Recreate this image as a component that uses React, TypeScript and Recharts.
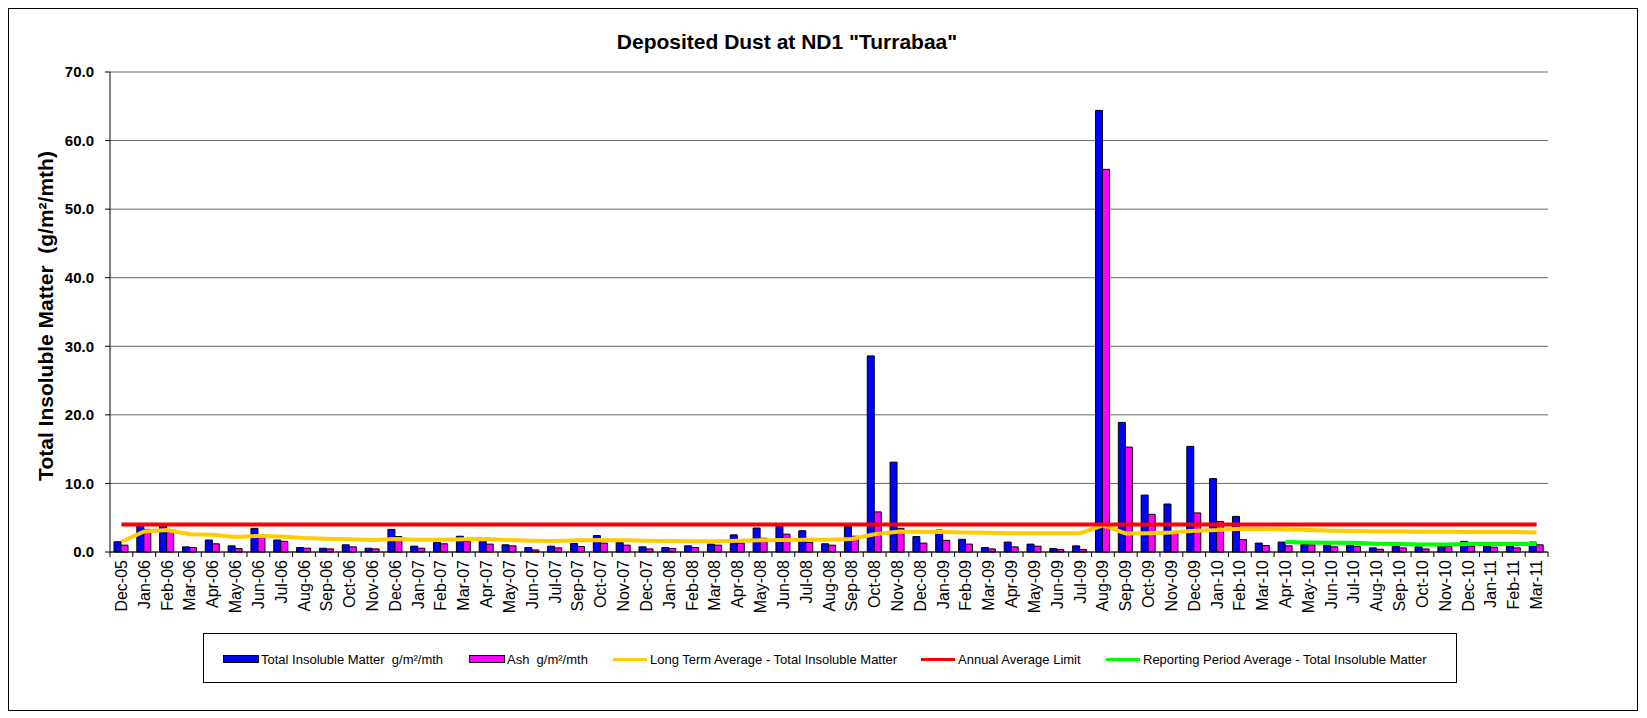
import { Bar, CartesianGrid, ComposedChart, Line, XAxis, YAxis } from "recharts";

const FONT = '"Liberation Sans", Arial, sans-serif';

// monthly sampling periods (no Aug-07 sample)
const months = [
  "Dec-05", "Jan-06", "Feb-06", "Mar-06", "Apr-06", "May-06", "Jun-06", "Jul-06", "Aug-06", "Sep-06",
  "Oct-06", "Nov-06", "Dec-06", "Jan-07", "Feb-07", "Mar-07", "Apr-07", "May-07", "Jun-07", "Jul-07",
  "Sep-07", "Oct-07", "Nov-07", "Dec-07", "Jan-08", "Feb-08", "Mar-08", "Apr-08", "May-08", "Jun-08",
  "Jul-08", "Aug-08", "Sep-08", "Oct-08", "Nov-08", "Dec-08", "Jan-09", "Feb-09", "Mar-09", "Apr-09",
  "May-09", "Jun-09", "Jul-09", "Aug-09", "Sep-09", "Oct-09", "Nov-09", "Dec-09", "Jan-10", "Feb-10",
  "Mar-10", "Apr-10", "May-10", "Jun-10", "Jul-10", "Aug-10", "Sep-10", "Oct-10", "Nov-10", "Dec-10",
  "Jan-11", "Feb-11", "Mar-11",
];

const totalInsoluble = [
  1.5, 3.9, 4.0, 0.75, 1.75, 0.9, 3.45, 1.75, 0.65, 0.55,
  1.05, 0.55, 3.3, 0.85, 1.4, 2.3, 2.0, 1.05, 0.65, 0.85,
  1.25, 2.4, 1.4, 0.75, 0.65, 0.9, 1.15, 2.5, 3.5, 4.1,
  3.1, 1.2, 3.7, 28.6, 13.1, 2.25, 3.2, 1.85, 0.65, 1.45,
  1.15, 0.5, 0.9, 64.4, 18.9, 8.3, 7.0, 15.4, 10.7, 5.2,
  1.3, 1.45, 1.1, 1.0, 1.0, 0.6, 0.85, 0.75, 0.8, 1.55,
  0.85, 0.85, 1.45,
];

const ash = [
  1.0, 3.3, 3.0, 0.65, 1.2, 0.5, 2.5, 1.55, 0.55, 0.45,
  0.75, 0.45, 2.25, 0.55, 1.2, 1.55, 1.15, 0.9, 0.3, 0.6,
  0.8, 1.3, 1.0, 0.45, 0.5, 0.65, 1.0, 1.3, 2.0, 2.6,
  1.4, 1.0, 2.3, 5.85, 3.45, 1.3, 1.7, 1.15, 0.45, 0.75,
  0.85, 0.35, 0.35, 55.8, 15.3, 5.5, 2.7, 5.7, 4.45, 1.8,
  0.95, 0.9, 1.05, 0.75, 0.8, 0.4, 0.6, 0.45, 0.8, 0.85,
  0.7, 0.6, 1.05,
];

const longTermAvg = [
  1.5, 3.0, 3.2, 2.6, 2.5, 2.2, 2.35, 2.25, 2.05, 1.95,
  1.85, 1.75, 1.9, 1.8, 1.8, 1.85, 1.9, 1.75, 1.65, 1.6,
  1.7, 1.75, 1.7, 1.65, 1.6, 1.55, 1.55, 1.65, 1.7, 1.75,
  1.8, 1.8, 1.9, 2.6, 2.95, 2.95, 2.9, 2.85, 2.8, 2.75,
  2.75, 2.75, 2.75, 3.9, 2.7, 2.75, 2.85, 3.1, 3.2, 3.4,
  3.35, 3.3, 3.2, 3.1, 3.05, 3.0, 3.0, 2.95, 2.95, 2.9,
  2.9, 2.9, 2.85,
];

const annualLimit = 4.0;

const reportingAvg: (number | null)[] = [
  null, null, null, null, null, null, null, null, null, null,
  null, null, null, null, null, null, null, null, null, null,
  null, null, null, null, null, null, null, null, null, null,
  null, null, null, null, null, null, null, null, null, null,
  null, null, null, null, null, null, null, null, null, null,
  null, 1.45, 1.4, 1.35, 1.35, 1.2, 1.15, 1.1, 1.1, 1.15,
  1.15, 1.15, 1.15,
];

const yTicks = [0, 10, 20, 30, 40, 50, 60, 70];

const data = months.map((month, i) => ({
  month,
  tim: totalInsoluble[i],
  ash: ash[i],
  lta: longTermAvg[i],
  limit: annualLimit,
  rpa: reportingAvg[i],
}));

const CHART_W = 1628;
const CHART_H = 701;
const PLOT_LEFT = 101;
const PLOT_RIGHT = 1539;
const BAND = (PLOT_RIGHT - PLOT_LEFT) / months.length;

function MonthTick(props: any) {
  const { x, y, payload, index } = props;
  const edge = x - BAND / 2;
  return (
    <g>
      <line x1={edge} x2={edge} y1={y} y2={y + 5} stroke="#000" />
      {index === months.length - 1 && (
        <line x1={x + BAND / 2} x2={x + BAND / 2} y1={y} y2={y + 5} stroke="#000" />
      )}
      <text
        transform={`translate(${x + 5.5},${y + 8}) rotate(-90)`}
        textAnchor="end"
        fontSize={16}
        fontFamily={FONT}
        fill="#000"
      >
        {payload.value}
      </text>
    </g>
  );
}

const legendItems = [
  { label: "Total Insoluble Matter  g/m²/mth", color: "#0000FF", kind: "bar", left: 19 },
  { label: "Ash  g/m²/mth", color: "#FF00FF", kind: "bar", left: 265 },
  { label: "Long Term Average - Total Insoluble Matter", color: "#FFCC00", kind: "line", left: 409 },
  { label: "Annual Average Limit", color: "#FF0000", kind: "line", left: 717 },
  { label: "Reporting Period Average - Total Insoluble Matter", color: "#00FF00", kind: "line", left: 902 },
];

export default function App() {
  return (
    <div
      style={{
        position: "relative",
        width: CHART_W,
        height: CHART_H,
        border: "1px solid #000",
        fontFamily: FONT,
        background: "#fff",
      }}
    >
      <div
        style={{
          position: "absolute",
          left: 378,
          width: 800,
          top: 22,
          textAlign: "center",
          fontSize: 21,
          fontWeight: "bold",
          lineHeight: "22px",
        }}
      >
        Deposited Dust at ND1 "Turrabaa"
      </div>
      <div
        style={{
          position: "absolute",
          left: 37 - 250,
          top: 307 - 12,
          width: 500,
          height: 24,
          lineHeight: "24px",
          textAlign: "center",
          fontSize: 21,
          fontWeight: "bold",
          transform: "rotate(-90deg)",
          whiteSpace: "pre",
        }}
      >
        {"Total Insoluble Matter  (g/m²/mth)"}
      </div>

      <ComposedChart
        width={CHART_W}
        height={CHART_H}
        data={data}
        margin={{ top: 63, right: CHART_W - PLOT_RIGHT, bottom: 88, left: 40 }}
        barGap={0}
      >
        <CartesianGrid vertical={false} stroke="#666" strokeWidth={1} />
        <XAxis
          dataKey="month"
          interval={0}
          height={70}
          tickSize={0}
          tickMargin={0}
          tickLine={false}
          axisLine={{ stroke: "#000" }}
          tick={<MonthTick />}
        />
        <YAxis
          domain={[0, 70]}
          ticks={yTicks}
          width={61}
          tickSize={5}
          tickMargin={11}
          tickFormatter={(v: number) => v.toFixed(1)}
          axisLine={{ stroke: "#000" }}
          tickLine={{ stroke: "#000" }}
          tick={{ fontSize: 15, fontWeight: "bold", fill: "#000", fontFamily: FONT }}
        />
        <YAxis
          yAxisId="frame"
          orientation="right"
          domain={[0, 70]}
          width={0}
          tick={false}
          tickLine={false}
          axisLine={{ stroke: "#555" }}
        />
        <Bar dataKey="tim" fill="#0000FF" stroke="#000" strokeWidth={1} barSize={7} isAnimationActive={false} />
        <Bar dataKey="ash" fill="#FF00FF" stroke="#000" strokeWidth={1} barSize={7} isAnimationActive={false} />
        <Line type="linear" dataKey="lta" stroke="#FFCC00" strokeWidth={4} dot={false} isAnimationActive={false} />
        <Line type="linear" dataKey="limit" stroke="#FF0000" strokeWidth={4} dot={false} isAnimationActive={false} />
        <Line type="linear" dataKey="rpa" stroke="#00FF00" strokeWidth={4} dot={false} isAnimationActive={false} />
      </ComposedChart>

      <div
        style={{
          position: "absolute",
          left: 194,
          top: 624,
          width: 1252,
          height: 48,
          border: "1px solid #000",
          fontSize: 13,
        }}
      >
        {legendItems.map((item) => (
          <div
            key={item.label}
            style={{
              position: "absolute",
              left: item.left,
              top: 17,
              height: 16,
              display: "flex",
              alignItems: "center",
              whiteSpace: "pre",
            }}
          >
            {item.kind === "bar" ? (
              <span
                style={{
                  display: "inline-block",
                  width: 34,
                  height: 6,
                  background: item.color,
                  border: "1px solid #000",
                  marginRight: 2,
                }}
              />
            ) : (
              <span
                style={{
                  display: "inline-block",
                  width: 34,
                  height: 3,
                  background: item.color,
                  marginRight: 3,
                }}
              />
            )}
            <span>{item.label}</span>
          </div>
        ))}
      </div>
    </div>
  );
}
